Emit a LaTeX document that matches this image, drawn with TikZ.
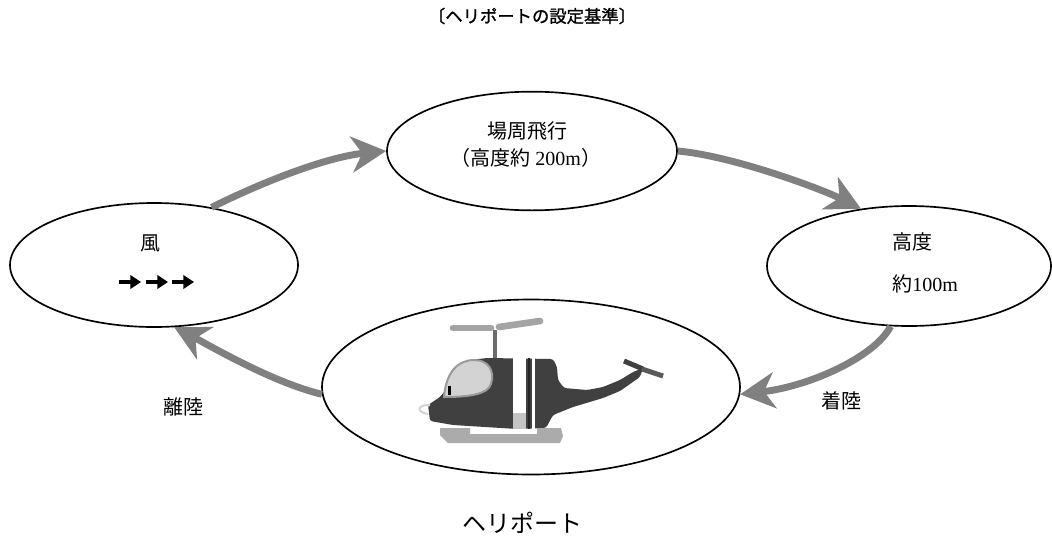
\documentclass[tikz,border=0pt]{standalone}
\usepackage{fontspec}
\setmainfont{Liberation Serif}
\newfontfamily\jp{Noto Sans CJK JP}
\newfontfamily\jptitle{Noto Sans CJK JP}[FakeBold=1.2]
\usetikzlibrary{shapes.geometric,arrows.meta,calc}
\definecolor{flowgray}{HTML}{808080}
\definecolor{heliDark}{HTML}{404040}
\definecolor{canopy}{HTML}{D3D3D3}
\definecolor{canopyedge}{HTML}{9A9A9A}
\definecolor{rotorgray}{HTML}{A4A4A4}
\definecolor{mastgray}{HTML}{6C6C6C}
\definecolor{skidgray}{HTML}{ABABAB}
\definecolor{stripegray}{HTML}{C4C4C4}
\begin{document}
\begin{tikzpicture}[x=0.75pt,y=-0.75pt,
  stage/.style={draw=black, line width=1.25pt, ellipse, inner sep=0pt},
  flow/.style={draw=flowgray, line width=5.2pt,
    -{Stealth[length=26pt,width=27pt,inset=8pt,fill=flowgray]}},
  lbl/.style={font=\fontsize{15}{18}\selectfont\jp, inner sep=0pt},
  wind/.style={draw=black, line width=3pt, -{Triangle[length=8pt,width=10pt]}},
  rotor/.style={draw=rotorgray, line width=5pt, line cap=round},
]
\useasboundingbox (0,0) rectangle (1052,543);

% title
\node[font=\fontsize{13}{15}\selectfont\jptitle, inner sep=0pt] (title) at (532,16) {〔ヘリポートの設定基準〕};

% the four stages of the circuit
\node[stage, minimum width=217.5pt, minimum height=89pt] (top) at (532,151) {};
\node[stage, minimum width=216pt, minimum height=93pt] (left) at (154,265) {};
\node[stage, minimum width=213pt, minimum height=90pt] (right) at (909,266) {};
\node[stage, minimum width=313.5pt, minimum height=131.25pt] (heli) at (531,387) {};

% texts in the ellipses
\node[lbl] (circuit) at (527,131) {場周飛行};
\node[lbl] (circuitalt) at (526,158) {（高度約 {\rmfamily 200m}）};
\node[lbl] (wind) at (150,243) {風};
\node[lbl, anchor=west] (alt) at (892,242) {高度};
\node[lbl, anchor=west] (altval) at (892,284) {約{\rmfamily 100m}};

% wind arrows
\draw[wind] (119,282) -- (141,282);
\draw[wind] (146,282) -- (168,282);
\draw[wind] (172,282) -- (194,282);

% helicopter
\draw[rotor] (453,328) -- (491,328);
\draw[rotor] (499,327) -- (540,321);
\draw[draw=mastgray, line width=3pt] (495,330) -- (495,360);
\fill[heliDark, rounded corners=2pt] (428,405) -- (440,397) -- (470,360) -- (487,358)
  -- (553,359) -- (557,367) -- (558,380) -- (564,388) -- (587,390) -- (603,387)
  -- (620,380) -- (633,372) -- (643,368) -- (640,377) -- (620,391) -- (603,398)
  -- (573,407) -- (553,415) -- (546,428) -- (517,429) -- (453,425) -- (430,421) -- cycle;
\draw[heliDark, line width=3.75pt] (624,361) -- (643,369);
\draw[draw=black!65, line width=3.75pt] (642,369) -- (663,376);
\filldraw[fill=canopy, draw=canopyedge, line width=1.5pt]
  (444,397) .. controls (446,372) and (458,360) .. (474,360)
  .. controls (488,360) and (495,370) .. (491,384)
  .. controls (488,394) and (470,397) .. (444,397) -- cycle;
\fill[black] (447.5,386) rectangle (450.5,395);
\fill[white] (513,357) rectangle (526,429);
\fill[stripegray] (513,413) rectangle (526,429);
\fill[black!85] (527.5,358) rectangle (530,429);
\fill[white] (531.5,358) rectangle (535,429);
\fill[skidgray] (440,428) -- (470,428) -- (470,434) -- (537,434) -- (537,428)
  -- (561,428) -- (563,436) -- (560,443) -- (448,443) -- (440,435) -- cycle;
\draw[draw=canopy, line width=1.5pt] (430,405) .. controls (418,404) and (415,412) .. (428,414);

% circuit arrows
\draw[flow] (left.45) .. controls ($(left.45)+(50,-25)$) and ($(top.west)+(-60,6)$) .. (top.west);
\draw[flow] (top.east) .. controls ($(top.east)+(55,5)$) and ($(right.130)+(-40,-20)$) .. (right.130);
\draw[flow] (right.253) .. controls ($(right.253)+(-15,30)$) and ($(heli.-2)+(70,-8)$) .. (heli.-2);
\draw[flow] (heli.182) .. controls ($(heli.182)+(-50,-12)$) and ($(left.288)+(35,18)$) .. (left.288);

% labels beside the arrows
\node[lbl] (takeoff) at (183,407) {離陸};
\node[lbl] (landing) at (841,401) {着陸};

% base label
\node[font=\fontsize{18}{21}\selectfont\jp, inner sep=0pt] (heliport) at (522,523) {ヘリポート};
\end{tikzpicture}
\end{document}
